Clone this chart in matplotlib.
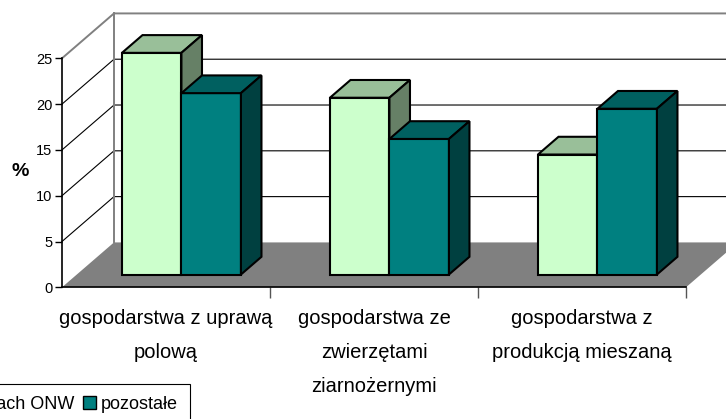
import matplotlib
matplotlib.use("Agg")
import matplotlib.pyplot as plt
from matplotlib.patches import Polygon, Patch

categories = ["gospodarstwa z uprawą\npolową",
              "gospodarstwa ze\nzwierzętami\nziarnożernymi",
              "gospodarstwa z\nprodukcją mieszaną"]
series = ["w gospodarstwach ONW", "pozostałe"]
onw = [24.2, 19.3, 13.1]
other = [19.8, 14.8, 18.1]
yticks = [0, 5, 10, 15, 20, 25]

# front / top / side shade for each series
FACES = [("#ccffcc", "#99bf99", "#668066"), ("#008080", "#006060", "#004040")]
DX, DY = 0.25, 4.9        # offset of the back wall (category units, value units)
ZF, ZB = 0.285, 0.68      # front and back of the bars inside the floor depth
GAP, BW = 0.217, 0.286    # gap before first bar, bar width (category units)

plt.rcParams.update({"font.family": ["Liberation Sans", "DejaVu Sans"]})

fig = plt.figure(figsize=(7.26, 4.19), dpi=100)
ax = fig.add_axes([62/726, (419-287.3)/419, 664/726, 287.3/419])
ax.set_xlim(0, 664/208)
ax.set_ylim(0, 287.3/9.16)


def P(x, y, z):
    return (x + z*DX, y + z*DY)


n = len(categories)
xr = n + 1
# floor
ax.add_patch(Polygon([P(0, 0, 0), P(0, 0, 1), P(n, 0, 1), P(n, 0, 0)],
                     closed=True, fc="#808080", ec="none", zorder=1, clip_on=False))
# walls gridlines
for v in yticks[1:-1]:
    ax.plot([0, DX, xr], [v, v+DY, v+DY], color="black", lw=0.8, zorder=1, clip_on=False)
top = yticks[-1]
ax.plot([0, DX, xr], [top, top+DY, top+DY], color="#808080", lw=1.4, zorder=1, clip_on=False)
ax.plot([DX, DX], [DY, top+DY], color="#808080", lw=1.4, zorder=1, clip_on=False)

# bars, left to right so the nearer right bar hides the side of its neighbour
for i in range(n):
    for j, vals in enumerate([onw, other]):
        x0 = i + GAP + j*BW
        v = vals[i]
        front, topc, side = FACES[j]
        faces = [
            ([P(x0, 0, ZF), P(x0+BW, 0, ZF), P(x0+BW, v, ZF), P(x0, v, ZF)], front),
            ([P(x0, v, ZF), P(x0+BW, v, ZF), P(x0+BW, v, ZB), P(x0, v, ZB)], topc),
            ([P(x0+BW, 0, ZF), P(x0+BW, 0, ZB), P(x0+BW, v, ZB), P(x0+BW, v, ZF)], side),
        ]
        for pts, c in faces:
            ax.add_patch(Polygon(pts, closed=True, fc=c, ec="black", lw=1.5,
                                 joinstyle="miter", zorder=3))

for s in ("top", "right"):
    ax.spines[s].set_visible(False)
ax.spines["left"].set_bounds(0, top)
ax.spines["bottom"].set_bounds(0, n)
ax.spines["left"].set_linewidth(1.2)
ax.spines["bottom"].set_linewidth(1.2)
ax.spines["bottom"].set_zorder(4)

ax.set_yticks(yticks)
ax.tick_params(axis="y", direction="out", length=5, width=1, labelsize=10.5, pad=2)
ax.set_xticks(range(1, n + 1))
ax.set_xticklabels([])
ax.tick_params(axis="x", which="major", direction="out", length=8, width=1, color="#555555")
ax.set_xticks([k + 0.5 for k in range(n)], minor=True)
ax.set_xticklabels(categories, minor=True, fontsize=14.5, linespacing=2.0)
ax.tick_params(axis="x", which="minor", length=0, pad=15.5)

ax.set_ylabel("%", rotation=0, fontsize=14, fontweight="bold", va="center", ha="center")
ax.yaxis.set_label_coords((20-62)/664, (287.3-171)/287.3)

handles = [Patch(fc=FACES[j][0], ec="black", lw=1) for j in range(2)]
leg = fig.legend(handles, series, loc="upper right", bbox_to_anchor=(190/726, 1-384/419),
                 ncol=2, fontsize=13, fancybox=False, edgecolor="black", framealpha=1,
                 handlelength=0.7, handleheight=0.7, handletextpad=0.3,
                 columnspacing=0.5, borderaxespad=0, borderpad=0.65)
leg.get_frame().set_linewidth(0.8)

fig.savefig("out.png", dpi=100)
